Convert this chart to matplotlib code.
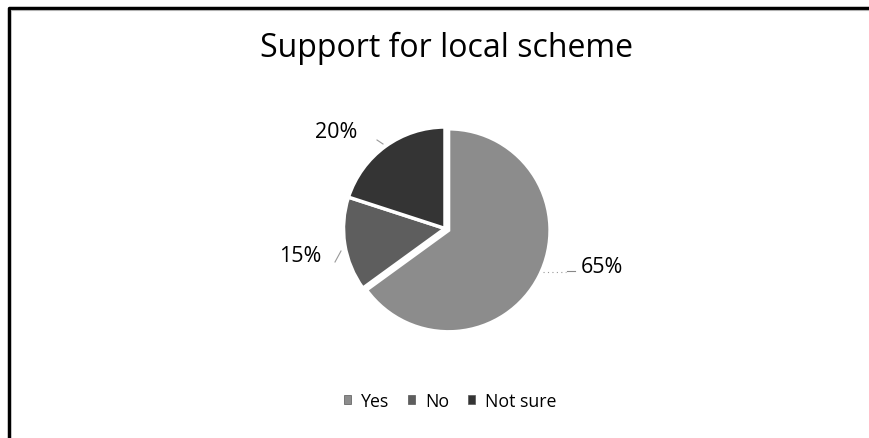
import matplotlib
matplotlib.use("Agg")
import matplotlib.pyplot as plt
from matplotlib.patches import Patch

categories = ["Yes", "No", "Not sure"]
shares = [65, 15, 20]
colors = ["#8c8c8c", "#5e5e5e", "#343434"]

W, H = 869, 439
plt.rcParams["font.family"] = ["Open Sans", "DejaVu Sans"]

fig = plt.figure(figsize=(W / 100, H / 100), dpi=100)
ax = fig.add_axes([0, 0, 1, 1])

# frame around the chart area (top and left edges visible)
ax.plot([9, 9, W], [0, H - 8.5, H - 8.5], color="black", lw=2.5, solid_capstyle="butt")
ax.plot([11, W], [H - 11, H - 11], color="#b0b0b0", lw=0.8)

ax.text(446, H - 57, "Support for local scheme", ha="center", va="baseline", fontsize=23)

cx, cy, r = 445, H - 229.5, 101.5
wedges, _ = ax.pie(shares, colors=colors, radius=r, center=(cx, cy),
                   startangle=90, counterclock=False, explode=[4, 0, 0],
                   wedgeprops=dict(edgecolor="white", linewidth=2.5),
                   frame=True)
ax.set_xlim(0, W)
ax.set_ylim(0, H)
ax.set_aspect("equal")
ax.axis("off")

# percentage labels (centre x, baseline y) and their short leader lines
label_pos = [(602, H - 273), (300, H - 262), (336, H - 138)]
for v, (lx, ly) in zip(shares, label_pos):
    ax.text(lx, ly, f"{v}%", ha="center", va="baseline", fontsize=15.5)

ax.plot([543, 566], [H - 273, H - 273], color="#999999", lw=0.8, ls=(0, (1, 3)))
ax.plot([567, 575], [H - 272, H - 272], color="#888888", lw=0.8)
ax.plot([335, 341], [H - 263, H - 252], color="#999999", lw=0.8)
ax.plot([377, 383], [H - 141, H - 145], color="#999999", lw=0.8)

handles = [Patch(facecolor=c, edgecolor="#555555", linewidth=0.5) for c in colors]
fig.legend(handles, categories, loc="center", bbox_to_anchor=(450 / W, 1 - 402 / H),
           ncol=3, frameon=False, fontsize=12.8, handlelength=0.4, handleheight=0.4,
           handletextpad=0.55, columnspacing=1.05, borderpad=0)

fig.savefig("out.png", dpi=100)
